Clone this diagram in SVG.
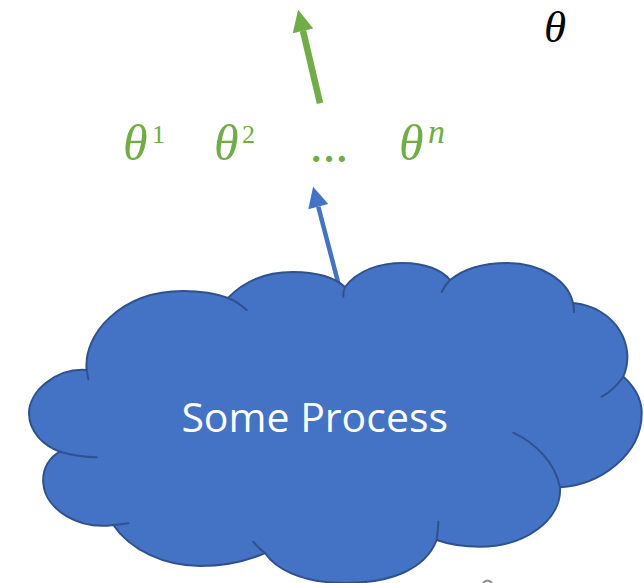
<svg xmlns="http://www.w3.org/2000/svg" width="644" height="583" viewBox="0 0 644 583">
  <style>
    .math { font-family: "Liberation Serif", "DejaVu Serif", serif; font-style: italic; }
    .up { font-family: "Liberation Serif", "DejaVu Serif", serif; font-style: normal; }
    .green { fill: #70AD47; }
    .cloud { fill: #4472C4; stroke: #2F528F; stroke-width: 2; stroke-linejoin: round; }
    .crease { fill: none; stroke: #2F528F; stroke-width: 2; stroke-linecap: round; }
    .label { font-family: "Open Sans", "Noto Sans", sans-serif; fill: #FFFFFF; }
  </style>
  <defs>
    <marker id="headGreen" markerUnits="userSpaceOnUse" markerWidth="24" markerHeight="24" refX="0" refY="0" viewBox="0 -12 24 24" orient="auto" overflow="visible">
      <path d="M0,-10.5 L21.5,0 L0,10.5 Z" fill="#70AD47"/>
    </marker>
    <marker id="headBlue" markerUnits="userSpaceOnUse" markerWidth="24" markerHeight="24" refX="0" refY="0" viewBox="0 -12 24 24" orient="auto" overflow="visible">
      <path d="M0,-10.3 L20.6,0 L0,10.3 Z" fill="#4472C4"/>
    </marker>
  </defs>

  <!-- connectors -->
  <g id="connectors">
    <line x1="320" y1="103.3" x2="303" y2="30.8" stroke="#70AD47" stroke-width="6.5" marker-end="url(#headGreen)"/>
    <line x1="338.5" y1="284" x2="318.3" y2="206.7" stroke="#4472C4" stroke-width="4.5" marker-end="url(#headBlue)"/>
  </g>

  <!-- process cloud -->
  <g id="process">
    <path class="cloud" d="M86.7,370
      C83,335 120,291 183,291
      C200,291 215,293 228,298
      C245,280 268,272 293,272
      C318,272 335,278 345,287
      C358,270 380,263 403,263
      C425,263 442,270 450,280
      C465,268 485,263 507,263
      C540,263 568,280 573,303
      C615,307 637,345 623.3,376.7
      C633,385 641.7,398 641.7,413
      C641.7,455 600,485 560,487.3
      C562,520 525,546.7 480,546.7
      C465,546.7 448,544 436.7,540
      C425,570 390,583 345,583
      C300,583 275,568 265,553
      C245,562 222,566 200,566
      C165,566 130,550 113.3,525
      C80,530 45,510 43.3,483.3
      C42,468 50,457 60,451.7
      C44,446 29,432 29,413
      C29,392 55,368 86.7,370 Z"/>
    <path class="crease" d="M86.7,370 Q87.5,375 88.3,379.3
      M228,298 Q238,302 246.7,310
      M345,287 Q343,292 343.3,297
      M450,280 Q445,285 441.7,292
      M573,303 Q574,307 574,312
      M623.3,376.7 Q614,390 601.7,396.7
      M513.3,432.7 C535,443 555,462 560,487.3
      M436.7,540 Q438,530 438.3,521.7
      M265,553 Q258,548 253.3,541.7
      M113.3,525 Q121,524.5 128.3,523.3
      M60,451.7 Q78,457 96.7,457.3"/>
    <text class="label" x="314.7" y="431.7" font-size="41" text-anchor="middle">Some Process</text>
  </g>

  <!-- parameter labels -->
  <g id="theta-1" class="green">
    <text class="math" x="123" y="160" font-size="50">θ</text>
    <text class="up" x="152" y="143.3" font-size="26">1</text>
  </g>
  <g id="theta-2" class="green">
    <text class="math" x="214" y="160" font-size="50">θ</text>
    <text class="up" x="242" y="143.3" font-size="26">2</text>
  </g>
  <g id="ellipsis" class="green">
    <text class="up" x="329" y="162" font-size="38" font-weight="bold" text-anchor="middle">…</text>
  </g>
  <g id="theta-n" class="green">
    <text class="math" x="399" y="160" font-size="50">θ</text>
    <text class="math" x="428" y="143.3" font-size="34">n</text>
  </g>
  <g id="theta">
    <text class="math" x="544" y="42" font-size="45" fill="#000000">θ</text>
  </g>

  <!-- partial mark at the lower edge -->
  <path d="M483,583 Q487.5,578 492,583" fill="none" stroke="#8C8C8C" stroke-width="2"/>
</svg>
